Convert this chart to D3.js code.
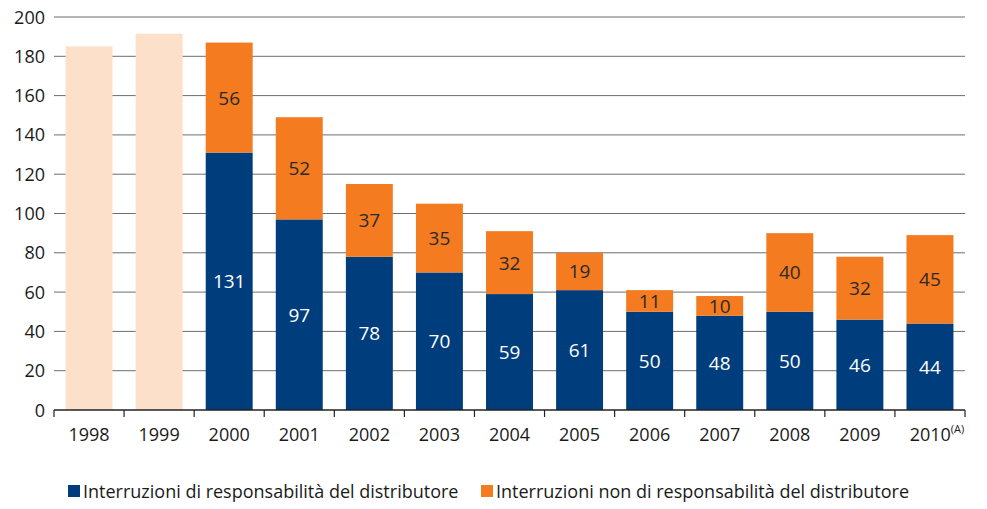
<!DOCTYPE html>
<html><head><meta charset="utf-8">
<script src="https://cdn.jsdelivr.net/npm/d3@7"></script>
<style>body{margin:0;background:#fff}</style>
</head><body><svg id="c" width="987" height="509"></svg>
<script>
const years = ["1998","1999","2000","2001","2002","2003","2004","2005","2006","2007","2008","2009","2010"];
const totalOnly = [185, 191.5, null, null, null, null, null, null, null, null, null, null, null];
const distributore = [null, null, 131, 97, 78, 70, 59, 61, 50, 48, 50, 46, 44];
const nonDistributore = [null, null, 56, 52, 37, 35, 32, 19, 11, 10, 40, 32, 45];
const yTicks = [0,20,40,60,80,100,120,140,160,180,200];
const legendLabels = ["Interruzioni di responsabilità del distributore","Interruzioni non di responsabilità del distributore"];

const svg = d3.select("#c");
const font = "'Open Sans', sans-serif";
const L=54, R=965, T=17, B=410;
const x = d3.scaleBand().domain(years).range([L,R]).paddingInner(0.33).paddingOuter(0.165);
const y = d3.scaleLinear().domain([0,200]).range([B,T]);

// grid
svg.append("g").selectAll("line").data(yTicks.filter(d=>d>0)).join("line")
  .attr("x1",L).attr("x2",R).attr("y1",d=>y(d)).attr("y2",d=>y(d))
  .attr("stroke","#6d6d6d").attr("stroke-width",1);
svg.append("g").selectAll("text").data(yTicks).join("text")
  .attr("x",45).attr("y",d=>y(d)+6.5).attr("text-anchor","end")
  .attr("font-family",font).attr("font-size",18).attr("fill","#1a1a1a").text(d=>d);

const C = {blue:"#003d7c", orange:"#f47b20", light:"#fde0c9"};
const g = svg.append("g");
years.forEach((yr,i)=>{
  const bx = x(yr), bw = x.bandwidth();
  if (totalOnly[i]!=null) {
    g.append("rect").attr("x",bx).attr("width",bw).attr("y",y(totalOnly[i])).attr("height",B-y(totalOnly[i])).attr("fill",C.light);
  } else {
    const a = distributore[i], b = nonDistributore[i];
    g.append("rect").attr("x",bx).attr("width",bw).attr("y",y(a)).attr("height",B-y(a)).attr("fill",C.blue);
    g.append("rect").attr("x",bx).attr("width",bw).attr("y",y(a+b)).attr("height",y(a)-y(a+b)).attr("fill",C.orange);
    g.append("text").attr("x",bx+bw/2).attr("y",y(a/2)+7).attr("text-anchor","middle")
      .attr("font-family",font).attr("font-size",19).attr("fill","#fff").text(a);
    g.append("text").attr("x",bx+bw/2).attr("y",y(a+b/2)+7).attr("text-anchor","middle")
      .attr("font-family",font).attr("font-size",19).attr("fill","#2a2a2a").text(b);
  }
});

// x axis
svg.append("line").attr("x1",L).attr("x2",R).attr("y1",B).attr("y2",B).attr("stroke","#222").attr("stroke-width",1.5);
const bounds = years.map((d,i)=>L+i*(R-L)/years.length).concat([R]);
svg.append("g").selectAll("line").data(bounds).join("line")
  .attr("x1",d=>d).attr("x2",d=>d).attr("y1",B).attr("y2",B+7).attr("stroke","#222").attr("stroke-width",1.2);
svg.append("g").selectAll("text").data(years).join("text")
  .attr("x",d=>x(d)+x.bandwidth()/2).attr("y",441).attr("text-anchor","middle")
  .attr("font-family",font).attr("font-size",18).attr("fill","#1a1a1a")
  .each(function(d){
    const t=d3.select(this);
    t.append("tspan").text(d);
    if(d==="2010"){ t.append("tspan").attr("font-size",11).attr("dy",-8).text("(A)"); t.attr("x",x(d)+x.bandwidth()/2+7); }
  });

// legend
const leg = [{c:C.blue,t:legendLabels[0],x:68},{c:C.orange,t:legendLabels[1],x:481}];
leg.forEach(l=>{
  svg.append("rect").attr("x",l.x).attr("y",485).attr("width",12).attr("height",12).attr("fill",l.c);
  svg.append("text").attr("x",l.x+15).attr("y",498).attr("font-family",font).attr("font-size",18).attr("fill","#1a1a1a").text(l.t);
});
</script></body></html>
